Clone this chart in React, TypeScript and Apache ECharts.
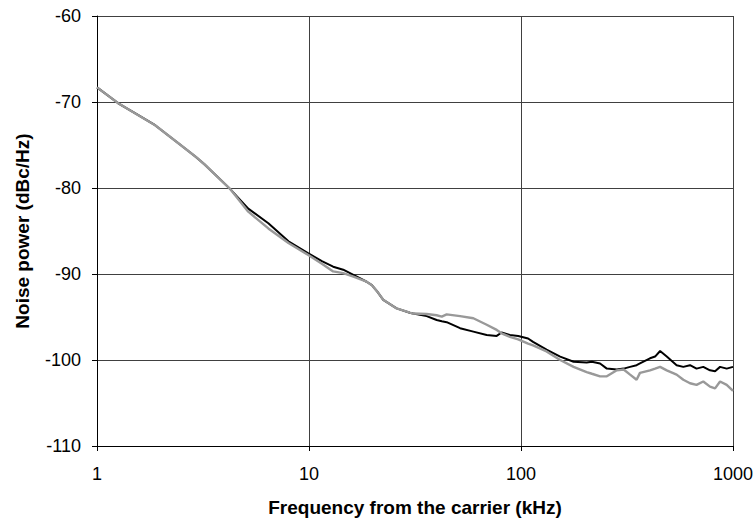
import React, { useEffect, useRef } from "react";
import * as echarts from "echarts";

// Offset frequency from the carrier (kHz)
const freqKHz = [
  1, 1.26, 1.51, 1.88, 2.42, 2.9, 3.23, 4.24, 5.17, 6.43, 8, 9.93, 11.5, 13,
  14.5, 16.2, 18.7, 19.8, 21, 22.4, 25.9, 29.9, 31, 35.9, 40, 42.3, 44.6, 51.6,
  59.6, 68.9, 76.8, 81, 88.7, 97, 108, 114, 132, 153, 177, 204, 216, 236, 254,
  283, 305, 327, 351, 364, 406, 429, 453, 487, 542, 583, 627, 673, 724, 779,
  823, 869, 934, 1000,
];

// Phase-noise traces (dBc/Hz)
const noiseBlack = [
  -68.3, -70.15, -71.3, -72.7, -74.8, -76.3, -77.3, -80.1, -82.4, -84.1, -86.2,
  -87.6, -88.5, -89.15, -89.5, -90.1, -90.9, -91.3, -92.05, -93.0, -94.0, -94.5,
  -94.6, -94.9, -95.35, -95.5, -95.6, -96.3, -96.7, -97.1, -97.2, -96.8, -97.1,
  -97.2, -97.5, -97.9, -98.8, -99.6, -100.2, -100.3, -100.2, -100.4, -101.0,
  -101.1, -101.0, -100.8, -100.6, -100.4, -99.8, -99.6, -98.95, -99.6, -100.6,
  -100.8, -100.6, -101.0, -100.8, -101.2, -101.3, -100.8, -101.0, -100.8,
];

const noiseGray = [
  -68.3, -70.15, -71.3, -72.7, -74.8, -76.3, -77.3, -80.1, -82.75, -84.7, -86.4,
  -87.8, -88.8, -89.7, -89.9, -90.3, -90.9, -91.3, -92.05, -93.0, -94.0, -94.5,
  -94.6, -94.65, -94.8, -94.95, -94.7, -94.9, -95.15, -95.9, -96.5, -96.9, -97.3,
  -97.6, -98.1, -98.3, -99.0, -100.0, -100.8, -101.4, -101.6, -101.9, -101.9,
  -101.2, -101.1, -101.7, -102.3, -101.5, -101.2, -101.0, -100.8, -101.2, -101.7,
  -102.3, -102.7, -102.9, -102.5, -103.1, -103.3, -102.5, -102.9, -103.6,
];

const xTicks = [1, 10, 100, 1000];

const FONT = "'Liberation Sans', Arial, sans-serif";

export default function App() {
  const ref = useRef<HTMLDivElement>(null);

  useEffect(() => {
    if (!ref.current) return;
    const chart = echarts.init(ref.current, null, { renderer: "svg" });
    const pairs = (ys: number[]) => freqKHz.map((f, i) => [f, ys[i]]);

    chart.setOption({
      animation: false,
      backgroundColor: "#ffffff",
      grid: {
        left: 97,
        right: 21,
        top: 16,
        bottom: 72,
        containLabel: false,
        outerBoundsMode: "none",
      },
      xAxis: {
        type: "log",
        logBase: 10,
        min: 1,
        max: 1000,
        name: "Frequency from the carrier (kHz)",
        nameLocation: "middle",
        nameGap: 52,
        nameTextStyle: { fontFamily: FONT, fontSize: 19, fontWeight: "bold", color: "#000" },
        axisLine: { show: true, lineStyle: { color: "#000", width: 1 } },
        axisTick: { show: true, length: 5, lineStyle: { color: "#000" } },
        minorTick: { show: false },
        axisLabel: {
          fontFamily: FONT,
          fontSize: 18,
          color: "#000",
          margin: 19,
          formatter: (v: number) => (xTicks.includes(Math.round(v)) ? String(Math.round(v)) : ""),
        },
        splitLine: { show: true, lineStyle: { color: "#404040", width: 1 } },
      },
      yAxis: {
        type: "value",
        min: -110,
        max: -60,
        interval: 10,
        name: "Noise power (dBc/Hz)",
        nameLocation: "middle",
        nameGap: 65,
        nameRotate: 90,
        nameTextStyle: { fontFamily: FONT, fontSize: 19, fontWeight: "bold", color: "#000" },
        axisLine: { show: true, lineStyle: { color: "#000", width: 1 } },
        axisTick: { show: true, length: 5, lineStyle: { color: "#000" } },
        axisLabel: { fontFamily: FONT, fontSize: 18, color: "#000", margin: 16 },
        splitLine: { show: true, lineStyle: { color: "#404040", width: 1 } },
      },
      series: [
        {
          name: "Trace A",
          type: "line",
          data: pairs(noiseBlack),
          showSymbol: false,
          lineStyle: { color: "#000000", width: 2 },
          z: 2,
        },
        {
          name: "Trace B",
          type: "line",
          data: pairs(noiseGray),
          showSymbol: false,
          lineStyle: { color: "#999999", width: 2.4 },
          z: 3,
        },
      ],
    });

    return () => chart.dispose();
  }, []);

  return <div ref={ref} style={{ width: 754, height: 518, position: "absolute", left: 0, top: 0 }} />;
}
